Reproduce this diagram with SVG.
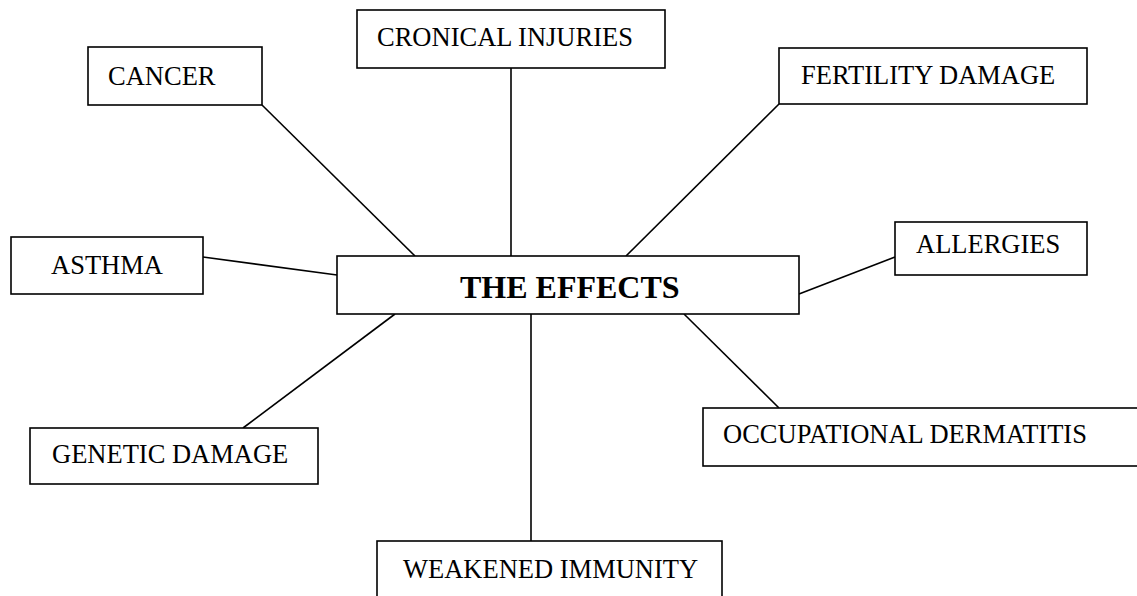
<svg xmlns="http://www.w3.org/2000/svg" width="1137" height="596" viewBox="0 0 1137 596">
<style>
rect.box{fill:#fff;stroke:#000;stroke-width:1.6}
text{font-family:"Liberation Serif","Times New Roman",serif;font-size:26.5px;fill:#000}
text.main{font-weight:bold;font-size:32px}
line{stroke:#000;stroke-width:1.6}
</style>
<rect width="1137" height="596" fill="#fff"/>
<g id="connectors">
<line x1="262" y1="105" x2="415" y2="256"/>
<line x1="511" y1="68" x2="511" y2="256"/>
<line x1="779" y1="104" x2="626" y2="256"/>
<line x1="203" y1="257" x2="337" y2="275"/>
<line x1="799" y1="294" x2="895" y2="257"/>
<line x1="395" y1="314" x2="243" y2="428"/>
<line x1="531" y1="314" x2="531" y2="541"/>
<line x1="684" y1="314" x2="779" y2="408"/>
</g>
<g id="cancer"><rect class="box" x="88" y="47" width="174" height="58"/><text x="108" y="85">CANCER</text></g>
<g id="cronical"><rect class="box" x="357" y="10" width="308" height="58"/><text x="377" y="46">CRONICAL INJURIES</text></g>
<g id="fertility"><rect class="box" x="779" y="48" width="308" height="56"/><text x="801" y="84">FERTILITY DAMAGE</text></g>
<g id="asthma"><rect class="box" x="11" y="237" width="192" height="57"/><text x="51" y="274">ASTHMA</text></g>
<g id="effects"><rect class="box" x="337" y="256" width="462" height="58"/><text class="main" x="460" y="298">THE EFFECTS</text></g>
<g id="allergies"><rect class="box" x="895" y="222" width="192" height="53"/><text x="916" y="253">ALLERGIES</text></g>
<g id="genetic"><rect class="box" x="30" y="428" width="288" height="56"/><text x="52" y="463">GENETIC DAMAGE</text></g>
<g id="occupational"><rect class="box" x="703" y="408" width="440" height="58"/><text x="723" y="443">OCCUPATIONAL DERMATITIS</text></g>
<g id="weakened"><rect class="box" x="377" y="541" width="345" height="70"/><text x="403" y="578">WEAKENED IMMUNITY</text></g>
</svg>
